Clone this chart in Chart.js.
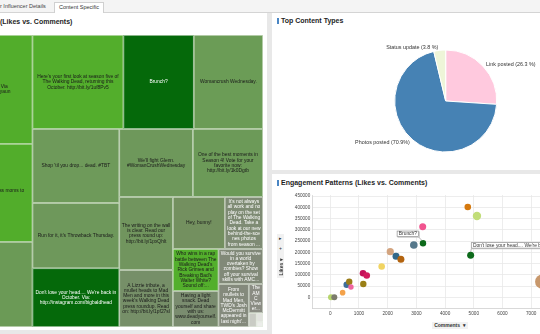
<!DOCTYPE html>
<html><head><meta charset="utf-8">
<script src="https://cdn.jsdelivr.net/npm/chart.js@4.4.1/dist/chart.umd.min.js"></script>
<style>
html,body{margin:0;padding:0;width:540px;height:334px;overflow:hidden;background:#e8e8e8;font-family:"Liberation Sans",Arial,sans-serif;color:#222;}
.a{position:absolute;}
#tabs{left:0;top:0;width:540px;height:12px;background:#f4f4f4;border-bottom:1px solid #d4d4d4;}
#tab1{left:0;top:3px;font-size:5.5px;line-height:7px;color:#444;white-space:nowrap;}
#tab2{left:54px;top:2px;width:48px;height:11px;background:#fff;border:1px solid #d0d0d0;border-bottom:none;font-size:5.5px;line-height:9px;text-align:center;color:#333;}
.panel{background:#fff;}
.title{font-weight:bold;font-size:7px;line-height:8px;white-space:nowrap;color:#1e1e1e;}
.mark{width:1.5px;height:6px;background:#4a86c4;}
canvas{position:absolute;}
#ybox{left:277px;top:234px;width:7px;height:44px;background:#f1f1f1;}
.btn{font-size:5px;line-height:6px;color:#333;text-align:center;width:7px;}
#likes{left:268px;top:264px;width:26px;height:6px;transform:rotate(-90deg);font-size:5px;line-height:6px;font-weight:bold;text-align:center;color:#333;white-space:nowrap;}
#comm{left:432px;top:322px;width:36px;height:7px;background:#f1f1f1;font-size:5px;line-height:7px;font-weight:bold;color:#333;white-space:nowrap;text-align:center;}
</style></head><body>
<div id="tabs" class="a"><div id="tab1" class="a">r Influencer Details</div><div id="tab2" class="a">Content Specific</div></div>
<div class="a panel" style="left:0;top:13px;width:267px;height:317px;"></div>
<div class="a panel" style="left:272px;top:13px;width:268px;height:157px;"></div>
<div class="a panel" style="left:272px;top:174px;width:268px;height:160px;"></div>
<div class="a title" style="left:0;top:18px;">(Likes vs. Comments)</div>
<div class="a mark" style="left:277px;top:18px;"></div>
<div class="a title" style="left:281px;top:17px;">Top Content Types</div>
<div class="a mark" style="left:277px;top:180px;"></div>
<div class="a title" style="left:281px;top:179px;">Engagement Patterns (Likes vs. Comments)</div>
<canvas id="tm" width="332" height="292" style="left:-69px;top:35px;width:332px;height:292px;"></canvas>
<canvas id="pie" width="200" height="130" style="left:340px;top:30px;width:200px;height:130px;"></canvas>
<canvas id="sc" width="300" height="140" style="left:272px;top:185px;width:300px;height:140px;"></canvas>
<div id="ybox" class="a"></div>
<div class="a btn" style="left:277px;top:235px;">&#9656;</div>
<div class="a btn" style="left:277px;top:245px;">+</div>
<div id="likes" class="a">Likes &#9662;</div>
<div id="comm" class="a">Comments &nbsp;&#9662;</div>
<script>
// ---------------- DATA ----------------
// Treemap: posts sized by likes (descending)
const postTexts = [
  "Back on set, filming. Via\ninstagram.com/wwweyaun",
  "Thank you to all the first-class moms to\nwalkers.",
  "Seriously.",
  "Here's your first look at season five of The Walking Dead, returning this October. http://bit.ly/1uf8Pv5",
  "Brunch?",
  "Womancrush Wednesday.",
  "Shop 'til you drop... dead. #TBT",
  "Run for it, it's Throwback Thursday.",
  "Don't lose your head.... We're back in October.    Via: http://instagram.com/bigbaldhead",
  "We'll fight Glenn. #WomanCrushWednesday",
  "One of the best moments in Season 4! Vote for your favorite now: http://bit.ly/1k0Dgtb",
  "The writing on the wall is clear.  Read our press round up: http://bit.ly/1pxQhlt",
  "A Lizzie tribute, a mullet heads to Mad Men and more in this week's Walking Dead press roundup. Read on: http://bit.ly/1pf27sl",
  "Hey, bunny!",
  "It's not always all work and no play on the set of The Walking Dead. Take a look at our new behind-the-scenes photos from season 4: http://bit.ly/1mBtsQ",
  "Who wins in a rap battle between The Walking Dead's Rick Grimes and Breaking Bad's Walter White? Sound off: http://bit.ly/1lZx4",
  "Having a light snack.  Dead yourself and share with us: www.deadyourself.com",
  "Would you survive in a world overtaken by zombies? Show off your survival skills with AMC The Walking Dead Dead Yourself app",
  "From mullets to Mad Men, TWD's Josh McDermitt appeared in last night's all-new Mad Men episode",
  "The AMC Viewers Panel is online now",
  "", "", ""
];
const postLikes = [401300, 361300, 313800, 310300, 240000, 236300, 233500, 206000, 185200, 181800,
  173400, 142200, 111000, 98100, 72200, 69600, 59700, 56600, 47300, 15000, 4000, 2000, 1260];

// Scatter: engagement per post
const scatterComments = [25, 140, 430, 570, 660, 720, 1140, 1270, 1150, 1790, 2090, 2290, 2460, 2910, 3220, 3230, 4790, 5110, 4890, 7390];
const scatterLikes = [0, 0, 20500, 55800, 69000, 45600, 107000, 97000, 59000, 137000, 203000, 183000, 169000, 232400, 313800, 240000, 401300, 361300, 186700, 69300];
const scatterShares = [10000, 10000, 8700, 11400, 11400, 8100, 12100, 12100, 11400, 12100, 14400, 13600, 13600, 16000, 13600, 11400, 12100, 19600, 13600, 59200];
const scatterNotes = ["", "", "", "", "", "", "", "", "", "", "", "", "", "", "", "Brunch?", "", "", "Don't lose your head.... We're back in October.", ""];
const xTickValues = [0, 1000, 2000, 3000, 4000, 5000, 6000, 7000];
const yTickValues = [0, 50000, 100000, 150000, 200000, 250000, 300000, 350000, 400000, 450000];

// Pie: content types
const contentTypes = ["Link posted", "Photos posted", "Status update"];
const contentPct = [26.3, 70.9, 3.8];
const contentLabels = ["Link posted (26.3 %)", "Photos posted (70.9%)", "Status update (3.8 %)"];

// ---------------- STYLES ----------------
const tmFill = ["#52ad2b", "#52ad2b", "#6b9a56", "#53ae2c", "#05690a", "#6b9c56", "#6e9a5a", "#6e985b", "#05690a", "#6e985b",
  "#6c9a58", "#71955e", "#768f68", "#73905f", "#7e8b74", "#53af2c", "#7a8c6f", "#818978", "#848a7c", "#8a8c83", "#c9cbc4", "#e2e3df", "#ecedea"];
const tmText = ["#1a1a1a", "#1a1a1a", "#1a1a1a", "#1a1a1a", "#ffffff", "#1a1a1a", "#1a1a1a", "#1a1a1a", "#ffffff", "#1a1a1a",
  "#1a1a1a", "#1a1a1a", "#1a1a1a", "#1a1a1a", "#ffffff", "#1a1a1a", "#1a1a1a", "#ffffff", "#ffffff", "#ffffff", "#333", "#333", "#333"];
const scColors = ["#b6d56c", "#7c7b6c", "#f4a24a", "#3e6e9b", "#9a7c19", "#ef65a0", "#c5115a", "#d21b5e", "#9a7f16", "#f1d462",
  "#d3a47f", "#326889", "#b3640f", "#56788b", "#f1548f", "#0d6a1b", "#d5790f", "#c1dd78", "#0d6a1b", "#c8986c"];
const calloutSide = {15: "left", 18: "right"};
const pieColors = ["#ffc9de", "#4682b4", "#eef5d8"];
const FONT = '"Liberation Sans", Arial, sans-serif';
Chart.defaults.font.family = FONT;

// ---------------- TREEMAP ----------------
function worst(row, sum, side) {
  const t = sum / side; let m = 0;
  for (const v of row) { const l = v / t; m = Math.max(m, l / t, t / l); }
  return m;
}
function squarify(vals, x, y, w, h) {
  const out = []; let i = 0;
  while (i < vals.length) {
    const vert = w >= h; const side = vert ? h : w;
    let row = [vals[i]], sum = vals[i], best = worst(row, sum, side), j = i + 1;
    while (j < vals.length) {
      const cand = row.concat(vals[j]), s2 = sum + vals[j], wr = worst(cand, s2, side);
      if (wr > best) break;
      row = cand; sum = s2; best = wr; j++;
    }
    const t = sum / side; let off = 0;
    row.forEach(v => {
      const l = v / t;
      out.push(vert ? {x: x, y: y + off, w: t, h: l} : {x: x + off, y: y, w: l, h: t});
      off += l;
    });
    if (vert) { x += t; w -= t; } else { y += t; h -= t; }
    i = j;
  }
  return out;
}
function wrapText(ctx, text, maxW) {
  const lines = [];
  text.split("\n").forEach(par => {
    const words = par.split(/\s+/).filter(Boolean); let cur = "";
    for (let w of words) {
      const test = cur ? cur + " " + w : w;
      if (ctx.measureText(test).width <= maxW) { cur = test; continue; }
      if (cur) { lines.push(cur); cur = ""; }
      while (ctx.measureText(w).width > maxW && w.length > 1) {
        let k = 1; while (k < w.length && ctx.measureText(w.slice(0, k + 1)).width <= maxW) k++;
        lines.push(w.slice(0, k)); w = w.slice(k);
      }
      cur = w;
    }
    if (cur) lines.push(cur);
  });
  return lines;
}
const tmAspect = 332 / 292;
const tmPlugin = {
  id: "treemap",
  beforeDatasetsDraw(chart) {
    const xs = chart.scales.x, ys = chart.scales.y, ctx = chart.ctx;
    const total = postLikes.reduce((a, b) => a + b, 0);
    const areas = postLikes.map(v => v / total * tmAspect);
    const rects = squarify(areas, 0, 0, tmAspect, 1);
    ctx.save();
    rects.forEach((r, i) => {
      const x1 = xs.getPixelForValue(r.x), x2 = xs.getPixelForValue(r.x + r.w);
      const y1 = ys.getPixelForValue(r.y), y2 = ys.getPixelForValue(r.y + r.h);
      const L = Math.min(x1, x2), T = Math.min(y1, y2), W = Math.abs(x2 - x1), H = Math.abs(y2 - y1);
      ctx.fillStyle = tmFill[i]; ctx.fillRect(L, T, W, H);
      ctx.strokeStyle = "rgba(225,235,220,0.75)"; ctx.lineWidth = 0.8;
      ctx.strokeRect(L + 0.4, T + 0.4, W - 0.8, H - 0.8);
      const txt = postTexts[i]; if (!txt) return;
      ctx.save(); ctx.beginPath(); ctx.rect(L, T, W, H); ctx.clip();
      ctx.font = "4.9px " + FONT; ctx.fillStyle = tmText[i]; ctx.textAlign = "center"; ctx.textBaseline = "middle";
      const maxW = W - 3.5, lh = 5.3;
      let lines = wrapText(ctx, txt, maxW);
      const maxL = Math.max(1, Math.floor((H - 2) / lh));
      if (lines.length > maxL) {
        lines = lines.slice(0, maxL); let last = lines[maxL - 1];
        while (last.length && ctx.measureText(last + "...").width > maxW) last = last.slice(0, -1);
        lines[maxL - 1] = last + "...";
      }
      const cy = T + H / 2, start = cy - (lines.length - 1) * lh / 2;
      lines.forEach((ln, k) => ctx.fillText(ln, L + W / 2, start + k * lh));
      ctx.restore();
    });
    ctx.restore();
  }
};
new Chart(document.getElementById("tm"), {
  type: "scatter",
  data: {datasets: [{data: []}]},
  options: {
    responsive: false, devicePixelRatio: 1, animation: false,
    layout: {padding: 0},
    plugins: {legend: {display: false}, tooltip: {enabled: false}},
    scales: {
      x: {type: "linear", min: 0, max: tmAspect, display: false},
      y: {type: "linear", min: 0, max: 1, reverse: true, display: false}
    }
  },
  plugins: [tmPlugin]
});

// ---------------- PIE ----------------
const pieLabelPlugin = {
  id: "pieLabels",
  afterDatasetsDraw(chart) {
    const ctx = chart.ctx, meta = chart.getDatasetMeta(0);
    ctx.save(); ctx.font = "5.4px " + FONT; ctx.fillStyle = "#333"; ctx.textBaseline = "middle";
    meta.data.forEach((arc, i) => {
      const mid = (arc.startAngle + arc.endAngle) / 2, R = arc.outerRadius + 3;
      const c = Math.cos(mid), s = Math.sin(mid);
      ctx.textAlign = c >= 0 ? "left" : "right";
      ctx.fillText(contentLabels[i], arc.x + c * R + (c >= 0 ? 1 : -1), arc.y + s * R);
    });
    ctx.restore();
  }
};
new Chart(document.getElementById("pie"), {
  type: "pie",
  data: {labels: contentTypes, datasets: [{data: contentPct, backgroundColor: pieColors, borderColor: "#ffffff", borderWidth: 1}]},
  options: {
    responsive: false, devicePixelRatio: 1, animation: false,
    layout: {padding: {left: 54.2, right: 42.8, top: 19.5, bottom: 7.5}},
    plugins: {legend: {display: false}, tooltip: {enabled: false}}
  },
  plugins: [pieLabelPlugin]
});

// ---------------- SCATTER ----------------
const calloutPlugin = {
  id: "callouts",
  afterDatasetsDraw(chart) {
    const ctx = chart.ctx, meta = chart.getDatasetMeta(0);
    ctx.save(); ctx.font = "4.9px " + FONT;
    meta.data.forEach((pt, i) => {
      const txt = scatterNotes[i]; if (!txt) return;
      const side = calloutSide[i] || "right";
      const w = ctx.measureText(txt).width + 4, h = 6.2;
      let bx, by;
      ctx.strokeStyle = "#9a9a9a"; ctx.lineWidth = 0.7; ctx.beginPath();
      if (side === "left") { bx = pt.x - 4 - w; by = pt.y - 12.6; ctx.moveTo(bx + w - 0.5, by + h); ctx.lineTo(pt.x - 1, pt.y - 2.8); }
      else { bx = pt.x + 0.3; by = pt.y - 13; ctx.moveTo(bx + 0.5, by + h); ctx.lineTo(pt.x, pt.y - 3.2); }
      ctx.stroke();
      ctx.fillStyle = "#bdbdbd"; ctx.fillRect(bx + 0.7, by + 0.7, w, h);
      ctx.fillStyle = "#ffffff"; ctx.fillRect(bx, by, w, h);
      ctx.strokeStyle = "#8e8e8e"; ctx.strokeRect(bx + 0.35, by + 0.35, w - 0.7, h - 0.7);
      ctx.fillStyle = "#333"; ctx.textBaseline = "middle"; ctx.textAlign = "left";
      ctx.fillText(txt, bx + 2, by + h / 2 + 0.3);
    });
    ctx.restore();
  }
};
new Chart(document.getElementById("sc"), {
  type: "bubble",
  data: {datasets: [{
    data: scatterComments.map((c, i) => ({x: c, y: scatterLikes[i], r: Math.sqrt(scatterShares[i]) * 0.03})),
    backgroundColor: scColors, borderWidth: 0, hoverBorderWidth: 0
  }]},
  options: {
    responsive: false, devicePixelRatio: 1, animation: false,
    layout: {padding: {top: 10, right: 12.1, left: 0, bottom: 0}},
    plugins: {legend: {display: false}, tooltip: {enabled: false}},
    scales: {
      x: {type: "linear", min: -613, max: 8000,
        afterBuildTicks: s => { s.ticks = xTickValues.map(v => ({value: v})); },
        afterFit: s => { s.height = 16.5; },
        ticks: {font: {size: 4.7}, color: "#444", padding: 2.5, maxRotation: 0, callback: v => String(v)},
        grid: {color: "#e9e9e9", lineWidth: 0.8, drawTicks: false},
        border: {color: "#cfcfcf", width: 0.8}
      },
      y: {type: "linear", min: -50000, max: 455000,
        afterBuildTicks: s => { s.ticks = yTickValues.map(v => ({value: v})); },
        afterFit: s => { s.width = 40.7; },
        ticks: {font: {size: 4.6}, color: "#444", padding: 2.5, callback: v => String(v)},
        grid: {color: "#e9e9e9", lineWidth: 0.8, drawTicks: false},
        border: {color: "#cfcfcf", width: 0.8}
      }
    }
  },
  plugins: [calloutPlugin]
});
</script>
</body></html>
